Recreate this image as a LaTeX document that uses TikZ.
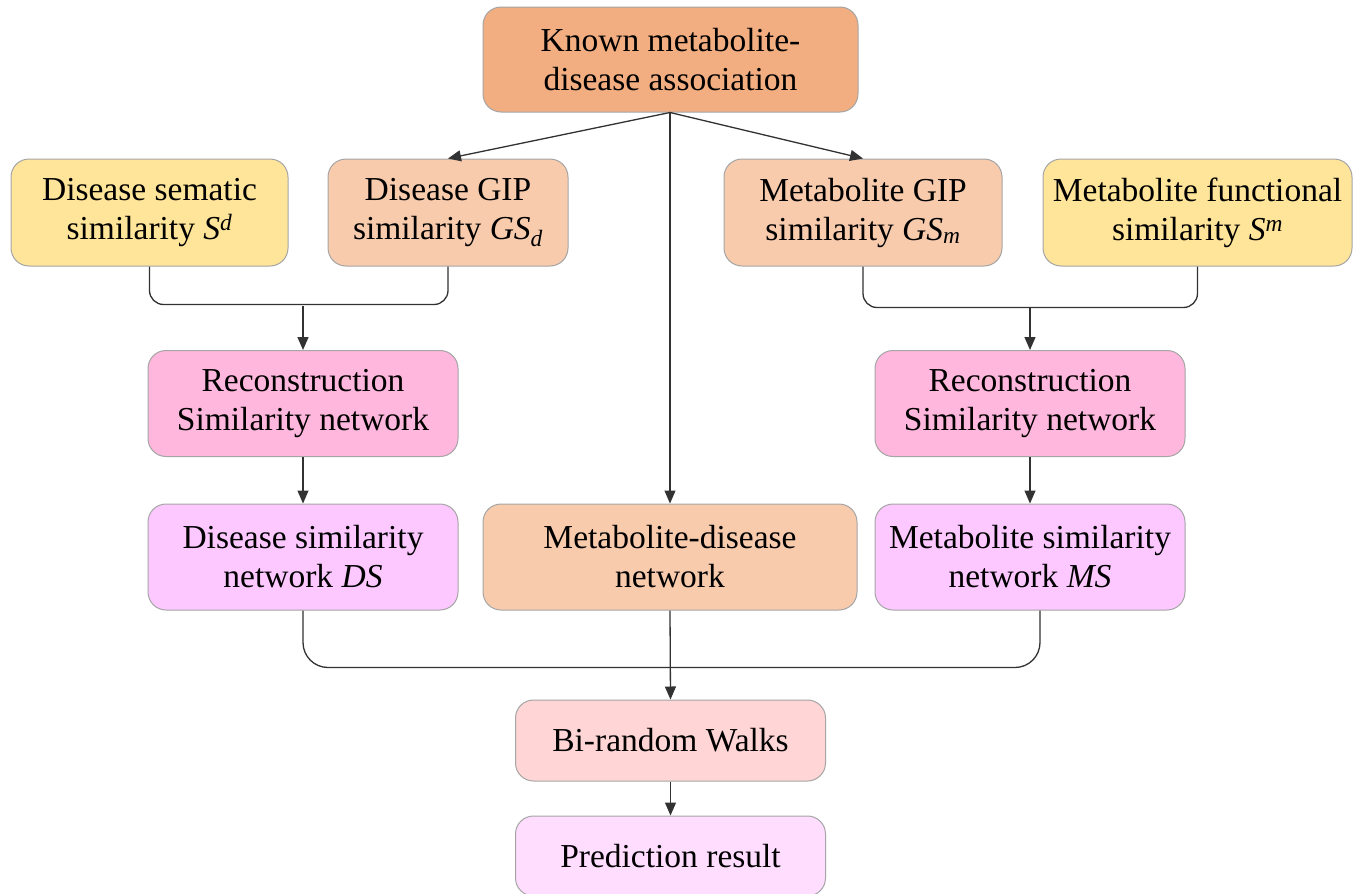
\documentclass[tikz,border=0pt]{standalone}
\usepackage{fontspec}
\setmainfont{Liberation Serif}
\usetikzlibrary{arrows.meta,calc}
\definecolor{topor}{RGB}{242,174,128}
\definecolor{yel}{RGB}{255,229,153}
\definecolor{salmon}{RGB}{248,203,173}
\definecolor{pinkrec}{RGB}{255,183,221}
\definecolor{violet}{RGB}{252,200,255}
\definecolor{birfill}{RGB}{255,213,213}
\definecolor{predfill}{RGB}{255,221,255}
\definecolor{bordergray}{RGB}{165,165,165}
\definecolor{linegray}{RGB}{50,50,50}
\newcommand{\boxfont}{\fontsize{33.5}{39}\selectfont}
\begin{document}
\begin{tikzpicture}[x=1pt,y=-1pt,
  box/.style={draw=bordergray, line width=1pt, rounded corners=18pt, align=center,
    inner sep=0pt, font=\boxfont, text=black},
  conn/.style={draw=linegray, line width=1.3pt},
  arr/.style={conn, -{Triangle[length=13pt,width=11pt]}}]
\fill[white] (0,0) rectangle (1361,894);
\useasboundingbox (0,0) rectangle (1361,894);

\node[box, fill=topor, minimum width=375, minimum height=105] (top) at (670.5,59.5)
  {Known metabolite-\\disease association};
\node[box, fill=yel, minimum width=277, minimum height=107] (dsem) at (149.5,212.5)
  {Disease sematic\\similarity \textit{S}\textsuperscript{\textit{d}}};
\node[box, fill=salmon, minimum width=240, minimum height=107] (dgip) at (448,212.5)
  {Disease GIP\\similarity \textit{GS}\textsubscript{\textit{d}}};
\node[box, fill=salmon, minimum width=278, minimum height=107] (mgip) at (863,212.5)
  {Metabolite GIP\\similarity \textit{GS}\textsubscript{\textit{m}}};
\node[box, fill=yel, minimum width=309, minimum height=107] (mfun) at (1197.5,212.5)
  {Metabolite functional\\similarity \textit{S}\textsuperscript{\textit{m}}};
\node[box, fill=pinkrec, minimum width=310, minimum height=106] (recL) at (303,403.5)
  {Reconstruction\\Similarity network};
\node[box, fill=pinkrec, minimum width=310, minimum height=106] (recR) at (1030,403.5)
  {Reconstruction\\Similarity network};
\node[box, fill=violet, minimum width=310, minimum height=106] (dsn) at (303,557)
  {Disease similarity\\network \textit{DS}};
\node[box, fill=salmon, minimum width=374, minimum height=106] (mdn) at (670,557)
  {Metabolite-disease\\network};
\node[box, fill=violet, minimum width=310, minimum height=106] (msn) at (1030,557)
  {Metabolite similarity\\network \textit{MS}};
\node[box, fill=birfill, minimum width=310, minimum height=81] (bir) at (670.5,740.5)
  {Bi-random Walks};
\node[box, fill=predfill, minimum width=310, minimum height=80] (pred) at (670.5,856)
  {Prediction result};

% from known associations
\coordinate (src) at (top.south -| mdn.north);
\draw[arr] (src) -- (mdn.north);
\draw[arr] (src) -- (dgip.north);
\draw[arr] (src) -- (mgip.north);

% left bracket
\draw[conn, rounded corners=14pt] (dsem.south) -- ++(0,38) -| (dgip.south);
\coordinate (jl) at ($(recL.north)+(0,-44)$);
\draw[arr] (jl) -- (recL.north);

% right bracket
\draw[conn, rounded corners=14pt] (mgip.south) -- ++(0,41) -| (mfun.south);
\coordinate (jr) at ($(recR.north)+(0,-42)$);
\draw[arr] (jr) -- (recR.north);

\draw[arr] (recL.south) -- (dsn.north);
\draw[arr] (recR.south) -- (msn.north);

% bottom bracket
\coordinate (msnr) at ($(msn.south)+(10,0)$);
\draw[conn, rounded corners=25pt] (dsn.south) -- ++(0,57) -| (msnr);
\draw[arr] (mdn.south) -- (bir.north);
\draw[arr] (bir.south) -- (pred.north);
\end{tikzpicture}
\end{document}
